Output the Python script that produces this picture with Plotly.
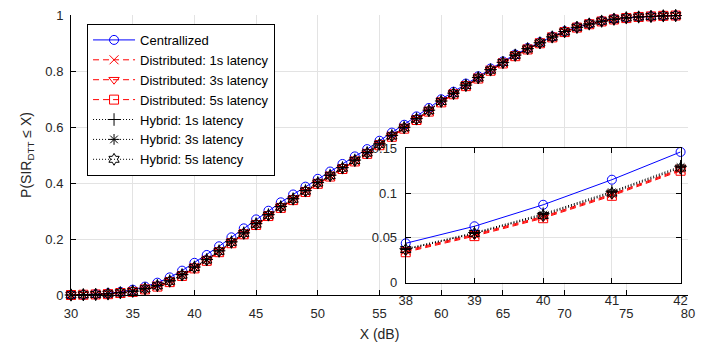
import plotly.graph_objects as go

# ---------------- data ----------------
x_main = list(range(30, 80))

centralized = [0.000, 0.001, 0.003, 0.006, 0.011, 0.019, 0.030, 0.044, 0.063, 0.087,
               0.115, 0.143, 0.174, 0.206, 0.238, 0.270, 0.301, 0.331, 0.359, 0.387,
               0.415, 0.441, 0.468, 0.495, 0.521, 0.551, 0.580, 0.608, 0.638, 0.668,
               0.699, 0.726, 0.755, 0.781, 0.809, 0.834, 0.859, 0.882, 0.903, 0.923,
               0.942, 0.957, 0.969, 0.979, 0.986, 0.990, 0.993, 0.995, 0.997, 0.998]

distributed_1s = [0.000, 0.001, 0.002, 0.004, 0.007, 0.012, 0.021, 0.032, 0.048, 0.070,
                  0.097, 0.124, 0.155, 0.187, 0.219, 0.252, 0.284, 0.313, 0.341, 0.370,
                  0.399, 0.425, 0.452, 0.479, 0.506, 0.537, 0.567, 0.596, 0.627, 0.657,
                  0.690, 0.719, 0.748, 0.775, 0.803, 0.829, 0.855, 0.878, 0.900, 0.921,
                  0.940, 0.955, 0.967, 0.977, 0.984, 0.990, 0.993, 0.995, 0.997, 0.998]

distributed_3s = [0.000, 0.001, 0.002, 0.004, 0.007, 0.012, 0.020, 0.031, 0.047, 0.069,
                  0.096, 0.123, 0.154, 0.186, 0.218, 0.251, 0.283, 0.312, 0.340, 0.369,
                  0.398, 0.424, 0.451, 0.478, 0.505, 0.536, 0.566, 0.595, 0.626, 0.656,
                  0.689, 0.718, 0.747, 0.774, 0.802, 0.828, 0.854, 0.878, 0.899, 0.920,
                  0.940, 0.955, 0.967, 0.977, 0.984, 0.989, 0.993, 0.995, 0.997, 0.998]

distributed_5s = [0.000, 0.001, 0.002, 0.003, 0.007, 0.011, 0.020, 0.030, 0.046, 0.068,
                  0.095, 0.122, 0.153, 0.185, 0.217, 0.250, 0.282, 0.311, 0.339, 0.368,
                  0.397, 0.423, 0.450, 0.477, 0.504, 0.535, 0.565, 0.594, 0.625, 0.655,
                  0.688, 0.717, 0.746, 0.773, 0.801, 0.827, 0.853, 0.877, 0.899, 0.920,
                  0.939, 0.955, 0.967, 0.977, 0.984, 0.989, 0.993, 0.995, 0.997, 0.998]

hybrid_1s = [0.000, 0.001, 0.002, 0.004, 0.008, 0.014, 0.023, 0.034, 0.051, 0.073,
             0.100, 0.127, 0.158, 0.190, 0.222, 0.255, 0.287, 0.316, 0.344, 0.373,
             0.402, 0.428, 0.455, 0.482, 0.509, 0.540, 0.570, 0.599, 0.630, 0.660,
             0.693, 0.721, 0.750, 0.777, 0.805, 0.831, 0.857, 0.880, 0.901, 0.922,
             0.941, 0.956, 0.968, 0.978, 0.985, 0.990, 0.993, 0.995, 0.997, 0.998]

hybrid_3s = [0.000, 0.001, 0.002, 0.004, 0.008, 0.013, 0.022, 0.033, 0.050, 0.072,
             0.099, 0.126, 0.157, 0.189, 0.221, 0.254, 0.286, 0.315, 0.343, 0.372,
             0.401, 0.427, 0.454, 0.481, 0.508, 0.539, 0.569, 0.598, 0.629, 0.659,
             0.692, 0.720, 0.749, 0.776, 0.804, 0.830, 0.856, 0.879, 0.900, 0.921,
             0.941, 0.956, 0.968, 0.978, 0.985, 0.990, 0.993, 0.995, 0.997, 0.998]

hybrid_5s = [0.000, 0.001, 0.002, 0.004, 0.008, 0.013, 0.022, 0.033, 0.049, 0.071,
             0.098, 0.125, 0.156, 0.188, 0.220, 0.253, 0.285, 0.314, 0.342, 0.371,
             0.400, 0.426, 0.453, 0.480, 0.507, 0.538, 0.568, 0.597, 0.628, 0.658,
             0.691, 0.719, 0.748, 0.775, 0.803, 0.830, 0.856, 0.879, 0.900, 0.921,
             0.940, 0.956, 0.968, 0.978, 0.985, 0.990, 0.993, 0.995, 0.997, 0.998]

# inset (zoom) data
x_inset = [38, 39, 40, 41, 42]
inset_centralized = [0.044, 0.063, 0.087, 0.115, 0.146]
inset_distributed_1s = [0.036, 0.054, 0.074, 0.099, 0.127]
inset_distributed_3s = [0.035, 0.053, 0.073, 0.098, 0.126]
inset_distributed_5s = [0.034, 0.052, 0.072, 0.097, 0.125]
inset_hybrid_1s = [0.038, 0.056, 0.077, 0.102, 0.130]
inset_hybrid_3s = [0.037, 0.055, 0.076, 0.101, 0.129]
inset_hybrid_5s = [0.037, 0.055, 0.075, 0.100, 0.128]

x_ticks = [30, 35, 40, 45, 50, 55, 60, 65, 70, 75, 80]
y_ticks = [0, 0.2, 0.4, 0.6, 0.8, 1]
inset_y_ticks = [0, 0.05, 0.1, 0.15]

names = ["Centrallized", "Distributed: 1s latency", "Distributed: 3s latency",
         "Distributed: 5s latency", "Hybrid: 1s latency", "Hybrid: 3s latency",
         "Hybrid: 5s latency"]

# ---------------- styles ----------------
BLUE = "#0000ff"
RED = "#ff0000"
BLACK = "#000000"
DASH = "6px,4px"
DOT = "1px,2px"
styles = [
    dict(color=BLUE, dash="solid", symbol="circle-open"),
    dict(color=RED, dash=DASH, symbol="x-thin-open"),
    dict(color=RED, dash=DASH, symbol="triangle-down-open"),
    dict(color=RED, dash=DASH, symbol="square-open"),
    dict(color=BLACK, dash=DOT, symbol="cross-thin-open"),
    dict(color=BLACK, dash=DOT, symbol="asterisk-open"),
    dict(color=BLACK, dash=DOT, symbol="hexagram-open"),
]
main_series = [centralized, distributed_1s, distributed_3s, distributed_5s,
               hybrid_1s, hybrid_3s, hybrid_5s]
inset_series = [inset_centralized, inset_distributed_1s, inset_distributed_3s,
                inset_distributed_5s, inset_hybrid_1s, inset_hybrid_3s, inset_hybrid_5s]

fig = go.Figure()
for name, ys, st in zip(names, main_series, styles):
    fig.add_trace(go.Scatter(
        x=x_main, y=ys, name=name, mode="lines+markers",
        line=dict(color=st["color"], width=1, dash=st["dash"]),
        marker=dict(symbol=st["symbol"], size=9, color=st["color"],
                    line=dict(color=st["color"], width=1)),
        cliponaxis=False, xaxis="x", yaxis="y"))

for name, ys, st in zip(names, inset_series, styles):
    fig.add_trace(go.Scatter(
        x=x_inset, y=ys, name=name, mode="lines+markers", showlegend=False,
        line=dict(color=st["color"], width=1, dash=st["dash"]),
        marker=dict(symbol=st["symbol"], size=9, color=st["color"],
                    line=dict(color=st["color"], width=1)),
        cliponaxis=False, xaxis="x2", yaxis="y2"))

FONT = "Liberation Sans, Arial, Helvetica, sans-serif"
TXT = "#262626"
GRID = "#e3e3e3"

fig.update_layout(
    width=718, height=347,
    margin=dict(l=71, r=30, t=8, b=52),
    paper_bgcolor="white", plot_bgcolor="white",
    font=dict(family=FONT, size=13, color=TXT),
    showlegend=True,
    legend=dict(x=0.026, y=0.968, xanchor="left", yanchor="top",
                bgcolor="white", bordercolor=BLACK, borderwidth=1,
                font=dict(family=FONT, size=13, color=BLACK),
                itemwidth=42, tracegroupgap=0),
    xaxis=dict(domain=[0, 1], range=[30, 80], tickvals=x_ticks,
               showgrid=True, gridcolor=GRID, gridwidth=1,
               showline=True, linecolor=BLACK, linewidth=1,
               ticks="inside", ticklen=5, tickcolor=BLACK,
               ticklabelstandoff=6, zeroline=False,
               title=dict(text="X (dB)", font=dict(size=14, color=TXT), standoff=9),
               anchor="y"),
    yaxis=dict(domain=[0, 1], range=[0, 1], tickvals=y_ticks,
               showgrid=True, gridcolor=GRID, gridwidth=1,
               showline=True, linecolor=BLACK, linewidth=1,
               ticks="inside", ticklen=5, tickcolor=BLACK,
               ticklabelstandoff=4, zeroline=False,
               title=dict(text="P(SIR<sub>DTT</sub> ≤ X)", font=dict(size=14, color=TXT),
                          standoff=10),
               anchor="x"),
    xaxis2=dict(domain=[0.5425, 0.988], range=[38, 42], tickvals=x_inset,
                showgrid=True, gridcolor=GRID, gridwidth=1,
                showline=True, linecolor=BLACK, linewidth=1, mirror="ticks",
                ticks="inside", ticklen=5, tickcolor=BLACK,
                ticklabelstandoff=6, zeroline=False, anchor="y2"),
    yaxis2=dict(domain=[0.044, 0.5237], range=[0, 0.15], tickvals=inset_y_ticks,
                showgrid=True, gridcolor=GRID, gridwidth=1,
                showline=True, linecolor=BLACK, linewidth=1, mirror="ticks",
                ticks="inside", ticklen=5, tickcolor=BLACK,
                ticklabelstandoff=5, zeroline=False, anchor="x2"),
)

fig.write_html("out.html")
